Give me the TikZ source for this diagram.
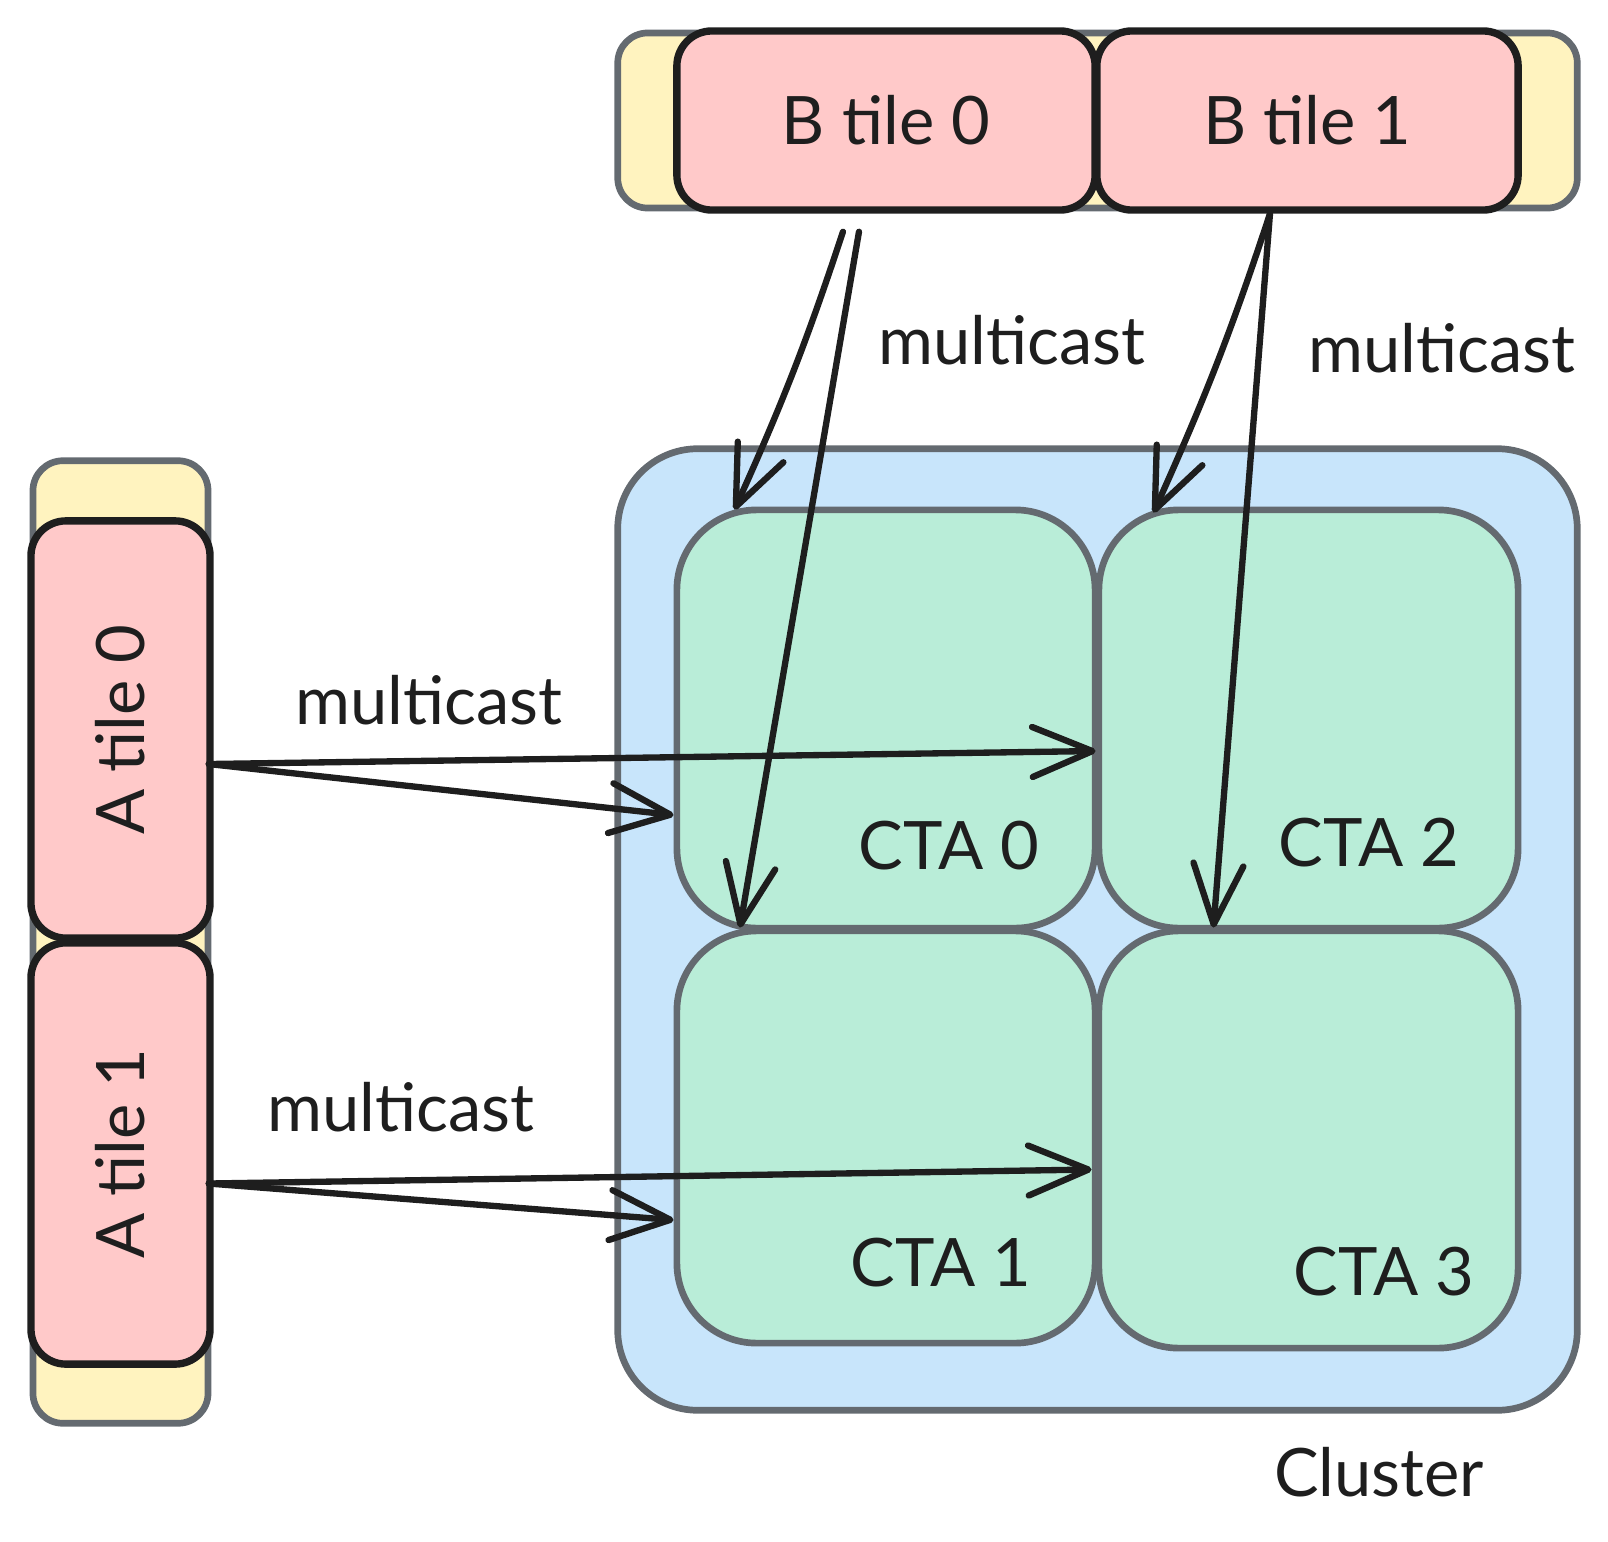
\documentclass[tikz,border=0pt]{standalone}
\usepackage{fontspec}
\setmainfont{Lato}
\usetikzlibrary{arrows.meta,bending}
\definecolor{tileyellow}{HTML}{FFF3BF}
\definecolor{tilepink}{HTML}{FFC9C9}
\definecolor{clusterblue}{HTML}{C8E5FB}
\definecolor{ctagreen}{HTML}{B9EDD8}
\definecolor{edgegray}{HTML}{646A70}
\definecolor{inkblack}{HTML}{1E1E1E}

\begin{document}
\begin{tikzpicture}[x=0.01cm,y=-0.01cm,
  every node/.style={font=\fontsize{19}{23}\selectfont,text=inkblack},
  strip/.style={draw=edgegray,line width=1.9pt,fill=tileyellow,rounded corners=0.3cm,inner sep=0pt},
  tile/.style={draw=inkblack,line width=2.1pt,fill=tilepink,rounded corners=0.35cm,inner sep=0pt},
  clusterbox/.style={draw=edgegray,line width=1.9pt,fill=clusterblue,rounded corners=0.8cm,inner sep=0pt},
  ctabox/.style={draw=edgegray,line width=1.9pt,fill=ctagreen,rounded corners=0.8cm,inner sep=0pt},
  cast/.style={draw=inkblack,line width=1.8pt,line cap=round,-{Straight Barb[length=0.6cm,width=0.5cm,round]}}]
\useasboundingbox (0,0) rectangle (1608,1542);

\node[strip,minimum width=9.59cm,minimum height=1.75cm] (bstrip) at (1097.5,120.5) {};
\node[strip,minimum width=1.75cm,minimum height=9.62cm] (astrip) at (120.5,942) {};

\node[clusterbox,minimum width=9.59cm,minimum height=9.61cm] (cluster) at (1097.5,929.5) {};
\node[ctabox,minimum width=4.18cm,minimum height=4.18cm] (cta0) at (886,719) {};
\node[ctabox,minimum width=4.19cm,minimum height=4.18cm] (cta2) at (1308.5,719) {};
\node[ctabox,minimum width=4.18cm,minimum height=4.12cm] (cta1) at (886,1137) {};
\node[ctabox,minimum width=4.19cm,minimum height=4.17cm] (cta3) at (1308.5,1139.5) {};

\node[tile,minimum width=4.18cm,minimum height=1.79cm] (btile0) at (886,120.5) {B tile 0};
\node[tile,minimum width=4.21cm,minimum height=1.79cm] (btile1) at (1307.5,120.5) {B tile 1};
\node[tile,minimum width=1.79cm,minimum height=4.17cm,
  label={[rotate=90]center:A tile 0}] (atile0) at (120.5,729.5) {};
\node[tile,minimum width=1.79cm,minimum height=4.21cm,
  label={[rotate=90]center:A tile 1}] (atile1) at (120.5,1153.5) {};

\draw[cast] ([xshift=-0.43cm,yshift=-0.18cm]btile0.south) to[bend left=3] ([xshift=0.61cm,yshift=-0.03cm]cta0.north west);
\draw[cast] ([xshift=-0.27cm,yshift=-0.18cm]btile0.south) -- ([xshift=-1.46cm]cta1.north);
\draw[cast] ([xshift=-0.375cm]btile1.south) to[bend left=3] ([xshift=0.58cm,yshift=-0.06cm]cta2.north west);
\draw[cast] ([xshift=-0.375cm]btile1.south) -- ([xshift=-0.95cm]cta3.north);

\draw[cast] ([xshift=-0.05cm,yshift=-0.345cm]atile0.east) -- ([yshift=-0.32cm]cta2.west);
\draw[cast] ([xshift=-0.05cm,yshift=-0.345cm]atile0.east) -- ([yshift=-0.96cm]cta0.west);
\draw[cast] ([xshift=-0.05cm,yshift=-0.3cm]atile1.east) -- ([xshift=-0.04cm,yshift=-0.3cm]cta3.west);
\draw[cast] ([xshift=-0.05cm,yshift=-0.3cm]atile1.east) -- ([yshift=-0.83cm]cta1.west);

\node (castb0) at (1012,340) {multicast};
\node (castb1) at (1442,348) {multicast};
\node (casta0) at (429,700) {multicast};
\node (casta1) at (401,1107) {multicast};

\node (cta0txt) at (949,846) {CTA 0};
\node (cta2txt) at (1369,843) {CTA 2};
\node (cta1txt) at (941,1263) {CTA 1};
\node (cta3txt) at (1384,1272) {CTA 3};
\node (clustertxt) at (1379,1472) {Cluster};
\end{tikzpicture}
\end{document}
